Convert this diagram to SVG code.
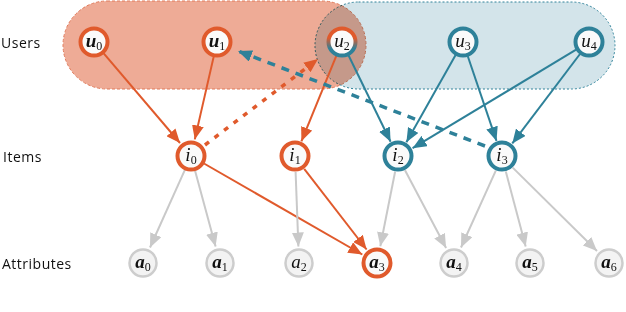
<svg xmlns="http://www.w3.org/2000/svg" width="626" height="312" viewBox="0 0 626 312">
<defs>
<style>
.lbl{font-family:"Open Sans","DejaVu Sans",sans-serif;font-size:14px;letter-spacing:0.5px;fill:#111}
.m{font-family:"Liberation Serif","DejaVu Serif",serif;font-style:italic;font-size:19px;fill:#111;text-anchor:middle}
.mb{font-weight:bold}
.sub{font-style:normal;font-weight:normal;font-size:12px}
.nr{fill:#fafafa;stroke:#e05a2c;stroke-width:4}
.nb{fill:#fafafa;stroke:#2e8199;stroke-width:4}
.na{fill:#f3f3f3;stroke:#cdcdcd;stroke-width:2.5}
.er{stroke:#e05a2c;stroke-width:2;fill:none;marker-end:url(#ar)}
.erd{stroke:#e05a2c;stroke-width:3.5;stroke-dasharray:5 7;fill:none;marker-end:url(#ar)}
.eb{stroke:#2e8199;stroke-width:2;fill:none;marker-end:url(#ab)}
.ebd{stroke:#2e8199;stroke-width:3.5;stroke-dasharray:8 7;fill:none;marker-end:url(#ab)}
.eg{stroke:#c9c9c9;stroke-width:2;fill:none;marker-end:url(#ag)}
</style>
<marker id="ar" markerUnits="userSpaceOnUse" markerWidth="15" markerHeight="12" refX="14" refY="6" orient="auto"><path d="M0,0 L14,6 L0,12 Z" fill="#e05a2c"/></marker>
<marker id="ab" markerUnits="userSpaceOnUse" markerWidth="15" markerHeight="12" refX="14" refY="6" orient="auto"><path d="M0,0 L14,6 L0,12 Z" fill="#2e8199"/></marker>
<marker id="ag" markerUnits="userSpaceOnUse" markerWidth="15" markerHeight="12" refX="14" refY="6" orient="auto"><path d="M0,0 L14,6 L0,12 Z" fill="#c9c9c9"/></marker>
<linearGradient id="u2g" x1="0" y1="0" x2="0" y2="1"><stop offset="0.35" stop-color="#e05a2c"/><stop offset="0.75" stop-color="#2e8199"/></linearGradient>
</defs>

<g id="groups">
<rect x="63" y="1" width="303" height="88" rx="44" fill="#eeab96" stroke="#e07a5a" stroke-width="1" stroke-dasharray="3 2"/>
<rect x="315" y="2" width="300" height="87" rx="43.5" fill="#d3e4ea" stroke="#2e8199" stroke-width="1" stroke-dasharray="2 2" style="mix-blend-mode:multiply"/>
</g>

<text class="lbl" x="1" y="48">Users</text>
<text class="lbl" x="3" y="162">Items</text>
<text class="lbl" x="2" y="269">Attributes</text>

<g id="connectors">
<line class="er" x1="103.7" y1="53.4" x2="180" y2="143"/>
<line class="er" x1="213.7" y1="56.6" x2="194.8" y2="139.4"/>
<line class="er" x1="336.3" y1="55.9" x2="301.4" y2="141.3"/>
<line class="er" x1="204" y1="163.5" x2="362.3" y2="254.5"/>
<line class="er" x1="304.2" y1="168.9" x2="366.6" y2="249.5"/>
<line class="erd" x1="205" y1="145" x2="318" y2="59"/>
<line class="eb" x1="348.6" y1="55.5" x2="390.6" y2="141.7"/>
<line class="eb" x1="455.6" y1="55.1" x2="406.4" y2="142.2"/>
<line class="eb" x1="467.8" y1="56.2" x2="496.5" y2="140.9"/>
<line class="eb" x1="576.1" y1="49.7" x2="412.6" y2="148.2"/>
<line class="eb" x1="580" y1="54" x2="512.3" y2="143.4"/>
<line class="ebd" x1="485" y1="146" x2="238" y2="51"/>
<line class="eg" x1="185" y1="169.7" x2="150" y2="247.5"/>
<line class="eg" x1="195" y1="170.5" x2="215.6" y2="246.6"/>
<line class="eg" x1="295.6" y1="172" x2="298.4" y2="246.5"/>
<line class="eg" x1="395.1" y1="171.7" x2="380.3" y2="246.3"/>
<line class="eg" x1="405" y1="170.3" x2="446.1" y2="248"/>
<line class="eg" x1="495.8" y1="170.7" x2="461" y2="247.5"/>
<line class="eg" x1="505.8" y1="171.5" x2="525.7" y2="246.6"/>
<line class="eg" x1="512.7" y1="167.6" x2="597" y2="251"/>
</g>

<g id="u0"><circle class="nr" cx="94" cy="42" r="13.5"/><text class="m mb" x="94" y="47">u<tspan class="sub" dy="3">0</tspan></text></g>
<g id="u1"><circle class="nr" cx="217" cy="42" r="13.5"/><text class="m mb" x="217" y="47">u<tspan class="sub" dy="3">1</tspan></text></g>
<g id="u2"><circle cx="342" cy="42" r="13.5" fill="#fafafa" stroke="url(#u2g)" stroke-width="4"/><text class="m" x="342" y="47">u<tspan class="sub" dy="3">2</tspan></text></g>
<g id="u3"><circle class="nb" cx="463" cy="42" r="13.5"/><text class="m" x="463" y="47">u<tspan class="sub" dy="3">3</tspan></text></g>
<g id="u4"><circle class="nb" cx="589" cy="42" r="13.5"/><text class="m" x="589" y="47">u<tspan class="sub" dy="3">4</tspan></text></g>

<g id="i0"><circle class="nr" cx="191" cy="156" r="13.5"/><text class="m" x="191" y="161">i<tspan class="sub" dy="3">0</tspan></text></g>
<g id="i1"><circle class="nr" cx="295" cy="156" r="13.5"/><text class="m" x="295" y="161">i<tspan class="sub" dy="3">1</tspan></text></g>
<g id="i2"><circle class="nb" cx="398" cy="156" r="13.5"/><text class="m" x="398" y="161">i<tspan class="sub" dy="3">2</tspan></text></g>
<g id="i3"><circle class="nb" cx="502" cy="156" r="13.5"/><text class="m" x="502" y="161">i<tspan class="sub" dy="3">3</tspan></text></g>

<g id="a0"><circle class="na" cx="143" cy="263" r="13.5"/><text class="m mb" x="143" y="268">a<tspan class="sub" dy="3">0</tspan></text></g>
<g id="a1"><circle class="na" cx="220" cy="263" r="13.5"/><text class="m mb" x="220" y="268">a<tspan class="sub" dy="3">1</tspan></text></g>
<g id="a2"><circle class="na" cx="299" cy="263" r="13.5"/><text class="m" x="299" y="268">a<tspan class="sub" dy="3">2</tspan></text></g>
<g id="a3"><circle class="nr" cx="377" cy="263" r="13.5"/><text class="m mb" x="377" y="268">a<tspan class="sub" dy="3">3</tspan></text></g>
<g id="a4"><circle class="na" cx="454" cy="263" r="13.5"/><text class="m mb" x="454" y="268">a<tspan class="sub" dy="3">4</tspan></text></g>
<g id="a5"><circle class="na" cx="530" cy="263" r="13.5"/><text class="m mb" x="530" y="268">a<tspan class="sub" dy="3">5</tspan></text></g>
<g id="a6"><circle class="na" cx="609" cy="263" r="13.5"/><text class="m mb" x="609" y="268">a<tspan class="sub" dy="3">6</tspan></text></g>
</svg>
